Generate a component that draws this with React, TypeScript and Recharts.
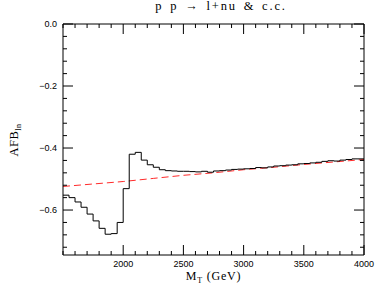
import { LineChart, Line, XAxis, YAxis } from "recharts";

const binStarts = [
  1500, 1550, 1600, 1650, 1700, 1750, 1800, 1850, 1900, 1950,
  2000, 2050, 2100, 2150, 2200, 2250, 2300, 2350, 2400, 2450,
  2500, 2550, 2600, 2650, 2700, 2750, 2800, 2850, 2900, 2950,
  3000, 3050, 3100, 3150, 3200, 3250, 3300, 3350, 3400, 3450,
  3500, 3550, 3600, 3650, 3700, 3750, 3800, 3850, 3900, 3950, 4000,
];
const afbHist = [
  -0.552, -0.56, -0.574, -0.591, -0.613, -0.635, -0.659, -0.678, -0.676, -0.64,
  -0.531, -0.42, -0.414, -0.439, -0.454, -0.462, -0.47, -0.473, -0.474, -0.475,
  -0.475, -0.476, -0.477, -0.475, -0.478, -0.474, -0.473, -0.471, -0.469, -0.468,
  -0.467, -0.466, -0.463, -0.464, -0.461, -0.458, -0.457, -0.455, -0.454, -0.451,
  -0.45, -0.448, -0.446, -0.443, -0.441, -0.442, -0.439, -0.437, -0.435, -0.435, -0.435,
];
const smoothX = [1500, 1750, 2000, 2250, 2500, 2750, 3000, 3250, 3500, 3750, 4000];
const afbSmooth = [-0.524, -0.516, -0.508, -0.498, -0.488, -0.48, -0.47, -0.462, -0.453, -0.445, -0.437];

const xMajor = [2000, 2500, 3000, 3500, 4000];
const xTicks = [
  1500, 1600, 1700, 1800, 1900, 2000, 2100, 2200, 2300, 2400, 2500, 2600, 2700,
  2800, 2900, 3000, 3100, 3200, 3300, 3400, 3500, 3600, 3700, 3800, 3900, 4000,
];
const yMajor = [0, -0.2, -0.4, -0.6];
const yTicks = [
  0, -0.04, -0.08, -0.12, -0.16, -0.2, -0.24, -0.28, -0.32, -0.36, -0.4,
  -0.44, -0.48, -0.52, -0.56, -0.6, -0.64, -0.68, -0.72,
];
const yLabels = ["0.0", "\u22120.2", "\u22120.4", "\u22120.6"];

const histData = binStarts.map((x, i) => ({ x, y: afbHist[i] }));
const smoothData = smoothX.map((x, i) => ({ x, y: afbSmooth[i] }));

const isMajorX = (v: number) => xMajor.includes(v);
const majorYIndex = (v: number) => yMajor.findIndex((m) => Math.abs(m - v) < 1e-6);
const tickFont = { fontFamily: "'Liberation Sans', Arial, sans-serif", fontSize: 9, fill: "#000" };

function BottomTick(p: any) {
  const v = p.payload.value;
  const len = isMajorX(v) ? 10 : 4;
  return (
    <g>
      <line x1={p.x} x2={p.x} y1={p.y} y2={p.y - len} stroke="#000" />
      {isMajorX(v) && (
        <text x={p.x} y={p.y + 12} textAnchor="middle" {...tickFont}>{v}</text>
      )}
    </g>
  );
}
function TopTick(p: any) {
  const len = isMajorX(p.payload.value) ? 10 : 4;
  return <line x1={p.x} x2={p.x} y1={p.y} y2={p.y + len} stroke="#000" />;
}
function LeftTick(p: any) {
  const idx = majorYIndex(p.payload.value);
  const major = idx >= 0;
  return (
    <g>
      <line x1={p.x} x2={p.x + (major ? 10 : 4)} y1={p.y} y2={p.y} stroke="#000" />
      {major && (
        <text x={p.x - 6} y={p.y + 3} textAnchor="end" {...tickFont}>{yLabels[idx]}</text>
      )}
    </g>
  );
}
function RightTick(p: any) {
  const len = majorYIndex(p.payload.value) >= 0 ? 10 : 4;
  return <line x1={p.x} x2={p.x - len} y1={p.y} y2={p.y} stroke="#000" />;
}

const serif = "'Liberation Serif', 'DejaVu Serif', serif";

export default function App() {
  return (
    <div style={{ position: "absolute", left: 0, top: 0, width: 375, height: 291, background: "#fff" }}>
      <LineChart width={375} height={291} margin={{ top: 23, right: 10, bottom: 35, left: 62 }}>
        <XAxis xAxisId="b" dataKey="x" type="number" domain={[1500, 4000]} ticks={xTicks} interval={0} height={1}
          tickSize={0} tickMargin={0} tickLine={false} axisLine={{ stroke: "#000" }} tick={<BottomTick />} allowDataOverflow />
        <XAxis xAxisId="t" orientation="top" dataKey="x" type="number" domain={[1500, 4000]} ticks={xTicks} interval={0} height={1}
          tickSize={0} tickMargin={0} tickLine={false} axisLine={{ stroke: "#000" }} tick={<TopTick />} allowDataOverflow />
        <YAxis yAxisId="l" type="number" domain={[-0.745, 0]} ticks={yTicks} interval={0} width={1}
          tickSize={0} tickMargin={0} tickLine={false} axisLine={{ stroke: "#000" }} tick={<LeftTick />} allowDataOverflow />
        <YAxis yAxisId="r" orientation="right" type="number" domain={[-0.745, 0]} ticks={yTicks} interval={0} width={1}
          tickSize={0} tickMargin={0} tickLine={false} axisLine={{ stroke: "#000" }} tick={<RightTick />} allowDataOverflow />
        <Line xAxisId="b" yAxisId="l" data={smoothData} dataKey="y" type="linear" stroke="#ff2a2a"
          strokeDasharray="7 4" strokeWidth={1} dot={false} isAnimationActive={false} />
        <Line xAxisId="b" yAxisId="l" data={histData} dataKey="y" type="stepAfter" stroke="#000"
          strokeWidth={1} dot={false} isAnimationActive={false} />
      </LineChart>
      <div style={{ position: "absolute", left: 0, width: 442, top: -1, textAlign: "center", fontFamily: serif, fontSize: 12.5, letterSpacing: 1.8, wordSpacing: 2 }}>
        p p {"\u2192"} l+nu &amp; c.c.
      </div>
      <div style={{ position: "absolute", left: 0, width: 427, top: 269, textAlign: "center", fontFamily: serif, fontSize: 12, letterSpacing: 0.8 }}>
        M<sub style={{ fontSize: 8 }}>T</sub> (GeV)
      </div>
      <div style={{ position: "absolute", left: 15, top: 140, transform: "translate(-50%, -50%) rotate(-90deg)", fontFamily: serif, fontSize: 12.5, letterSpacing: 0.5, whiteSpace: "nowrap" }}>
        AFB<sub style={{ fontSize: 8 }}>ln</sub>
      </div>
    </div>
  );
}
